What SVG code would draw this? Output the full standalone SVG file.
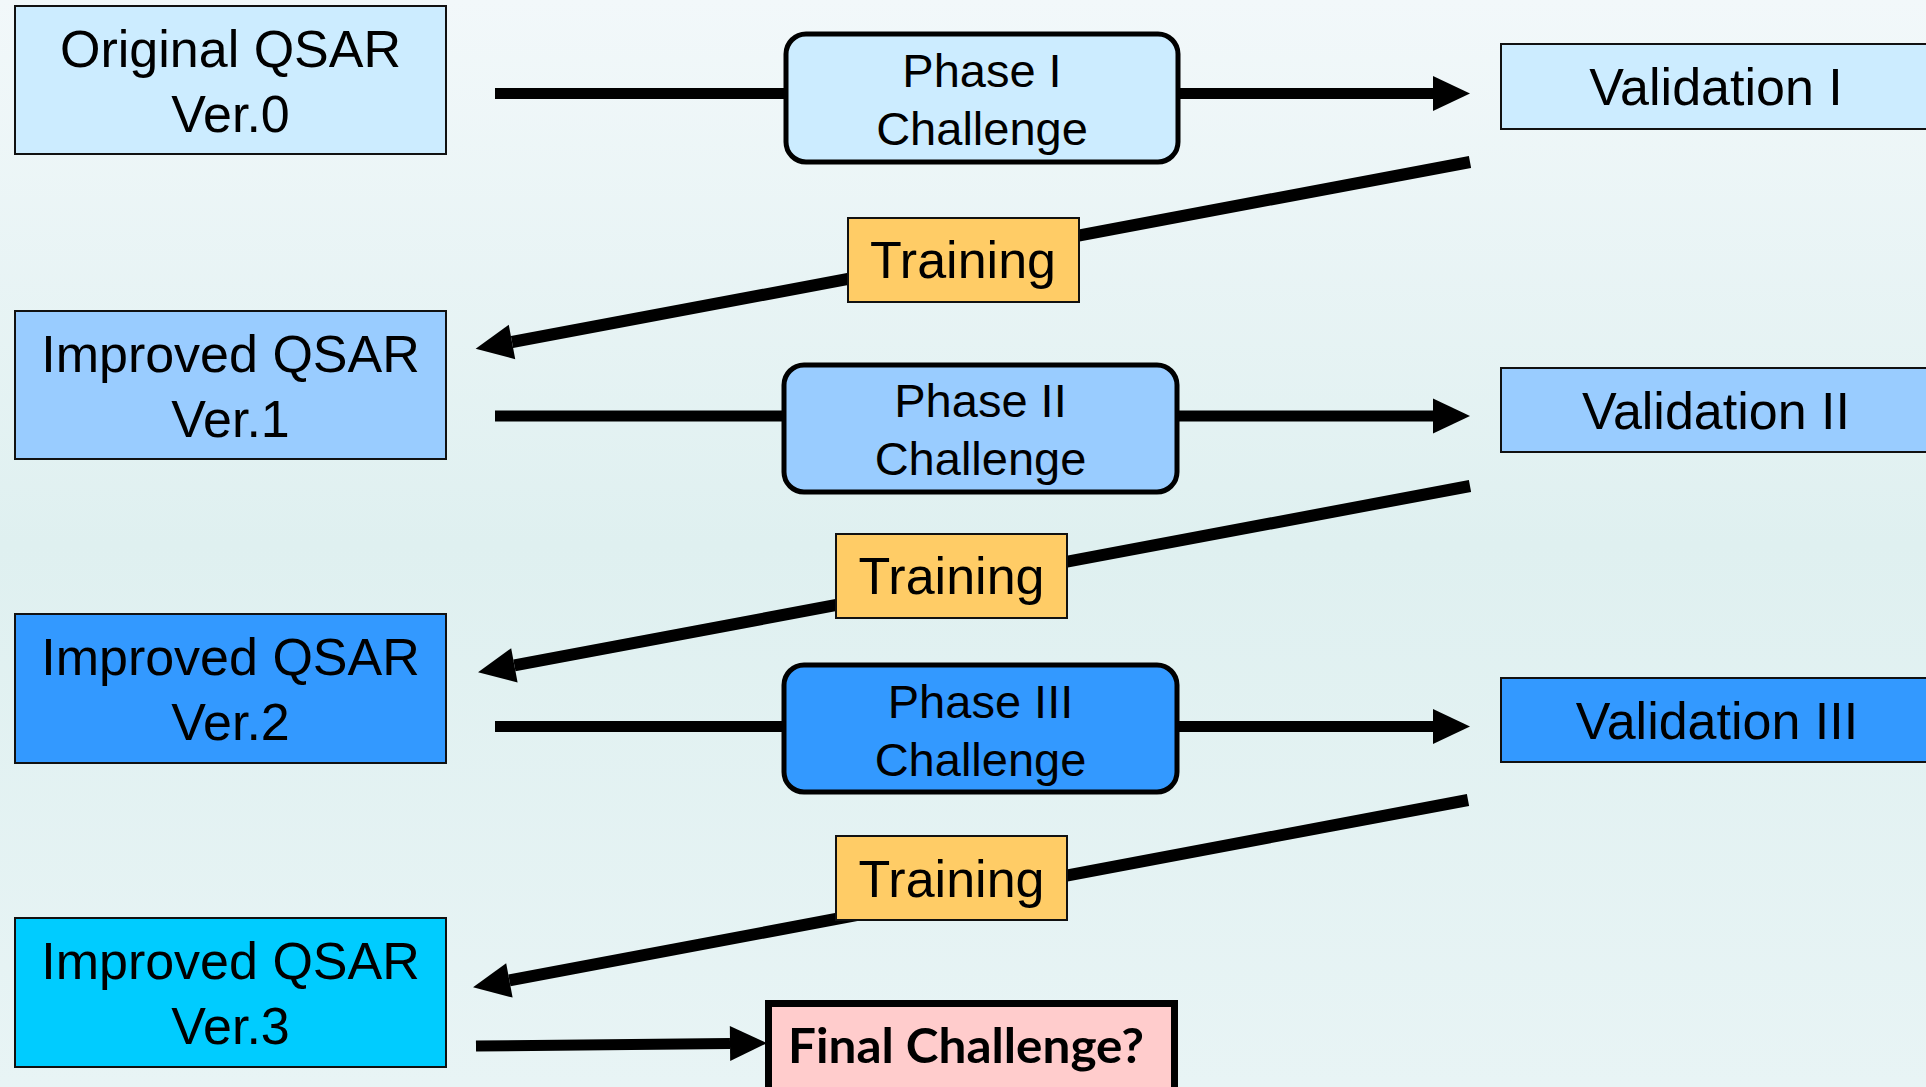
<svg xmlns="http://www.w3.org/2000/svg" width="1926" height="1087" viewBox="0 0 1926 1087">
<defs>
<linearGradient id="bg" x1="0" y1="0" x2="0" y2="1">
<stop offset="0" stop-color="#F2F8FA"/>
<stop offset="0.5" stop-color="#DFF0F0"/>
<stop offset="1" stop-color="#E8F4F5"/>
</linearGradient>
<marker id="ah" markerUnits="userSpaceOnUse" markerWidth="40" markerHeight="40" refX="0" refY="17.5" orient="auto" overflow="visible">
<path d="M0,0 L37,17.5 L0,35 Z" fill="#000"/>
</marker>
</defs>
<style>
.box{stroke:#111;stroke-width:2}
.phase{stroke:#000;stroke-width:5}
.t{font-family:"Liberation Sans",Arial,sans-serif;font-size:52px;fill:#000;text-anchor:middle}
.tp{font-family:"Liberation Sans",Arial,sans-serif;font-size:47px;fill:#000;text-anchor:middle}
.tf{font-family:Lato,"Open Sans",sans-serif;font-weight:700;font-size:48px;fill:#000;text-anchor:middle}
.ln{stroke:#000;stroke-width:11;fill:none}
.dg{stroke:#000;stroke-width:12;fill:none}
</style>
<rect width="1926" height="1087" fill="url(#bg)"/>
<g id="connectors">
<line class="ln" x1="495" y1="93.5" x2="1433" y2="93.5" marker-end="url(#ah)"/>
<line class="ln" x1="495" y1="416" x2="1433" y2="416" marker-end="url(#ah)"/>
<line class="ln" x1="495" y1="726.5" x2="1433" y2="726.5" marker-end="url(#ah)"/>
<line class="dg" x1="1470" y1="162" x2="512" y2="342" marker-end="url(#ah)"/>
<line class="dg" x1="1470" y1="486" x2="514.4" y2="665.4" marker-end="url(#ah)"/>
<line class="dg" x1="1468" y1="800" x2="509.4" y2="980.4" marker-end="url(#ah)"/>
<line class="ln" x1="476" y1="1046" x2="730" y2="1043.5" marker-end="url(#ah)"/>
</g>
<g id="qsar0">
<rect class="box" x="15" y="6" width="431" height="148" fill="#CCECFF"/>
<text class="t" x="230.5" y="67">Original QSAR</text>
<text class="t" x="230.5" y="132">Ver.0</text>
</g>
<g id="qsar1">
<rect class="box" x="15" y="311" width="431" height="148" fill="#99CCFF"/>
<text class="t" x="230.5" y="372">Improved QSAR</text>
<text class="t" x="230.5" y="437">Ver.1</text>
</g>
<g id="qsar2">
<rect class="box" x="15" y="614" width="431" height="149" fill="#3399FF"/>
<text class="t" x="230.5" y="675">Improved QSAR</text>
<text class="t" x="230.5" y="740">Ver.2</text>
</g>
<g id="qsar3">
<rect class="box" x="15" y="918" width="431" height="149" fill="#00CCFF"/>
<text class="t" x="230.5" y="979">Improved QSAR</text>
<text class="t" x="230.5" y="1044">Ver.3</text>
</g>
<g id="phase1">
<rect class="phase" x="786" y="34" width="392" height="128" rx="20" fill="#CCECFF"/>
<text class="tp" x="982" y="87">Phase I</text>
<text class="tp" x="982" y="145">Challenge</text>
</g>
<g id="phase2">
<rect class="phase" x="784" y="365" width="393" height="127" rx="20" fill="#99CCFF"/>
<text class="tp" x="980.5" y="417">Phase II</text>
<text class="tp" x="980.5" y="475">Challenge</text>
</g>
<g id="phase3">
<rect class="phase" x="784" y="665" width="393" height="127" rx="20" fill="#3399FF"/>
<text class="tp" x="980.5" y="718">Phase III</text>
<text class="tp" x="980.5" y="776">Challenge</text>
</g>
<g id="val1">
<rect class="box" x="1501" y="44" width="440" height="85" fill="#CCECFF"/>
<text class="t" x="1716" y="105">Validation I</text>
</g>
<g id="val2">
<rect class="box" x="1501" y="368" width="440" height="84" fill="#99CCFF"/>
<text class="t" x="1716" y="429">Validation II</text>
</g>
<g id="val3">
<rect class="box" x="1501" y="678" width="440" height="84" fill="#3399FF"/>
<text class="t" x="1717" y="739">Validation III</text>
</g>
<g id="train1">
<rect class="box" x="848" y="218" width="231" height="84" fill="#FFCC66"/>
<text class="t" x="963" y="278">Training</text>
</g>
<g id="train2">
<rect class="box" x="836" y="534" width="231" height="84" fill="#FFCC66"/>
<text class="t" x="951.5" y="594">Training</text>
</g>
<g id="train3">
<rect class="box" x="836" y="836" width="231" height="84" fill="#FFCC66"/>
<text class="t" x="951.5" y="897">Training</text>
</g>
<g id="final">
<rect x="768.5" y="1003.5" width="406" height="95" fill="#FFCCCC" stroke="#000" stroke-width="7"/>
<text class="tf" x="966" y="1063" textLength="356" lengthAdjust="spacingAndGlyphs">Final Challenge?</text>
</g>
</svg>
